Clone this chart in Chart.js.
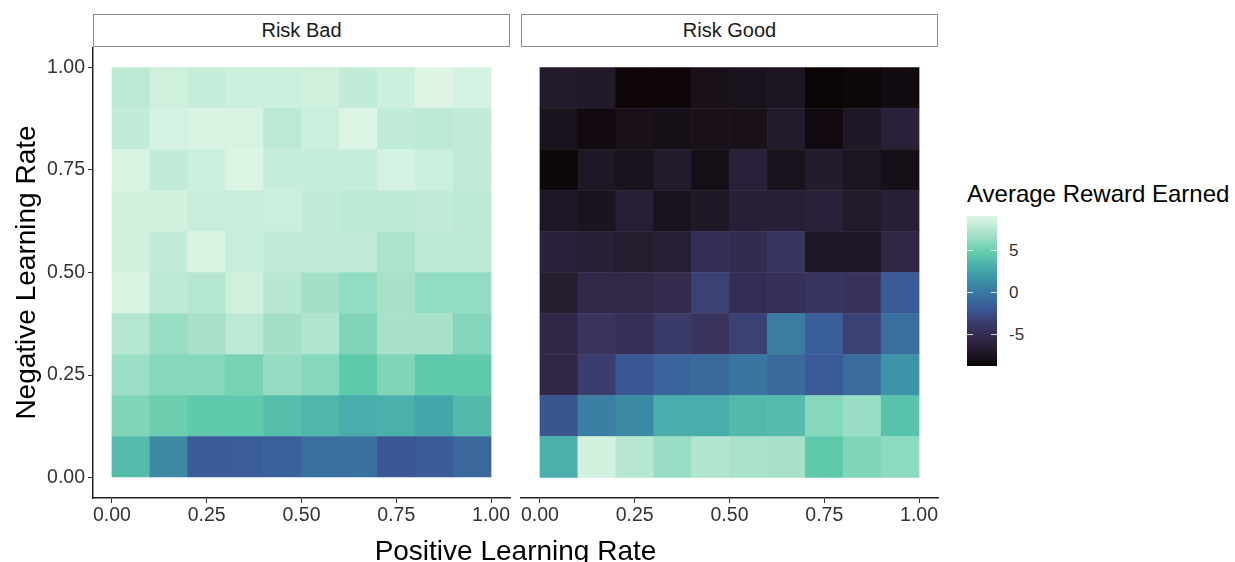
<!DOCTYPE html>
<html>
<head>
<meta charset="utf-8">
<script src="https://cdn.jsdelivr.net/npm/chart.js@4.4.0/dist/chart.umd.min.js"></script>
<style>
  body { margin: 0; background: #fff; font-family: "Liberation Sans", Arial, sans-serif; }
  #wrap { position: relative; width: 1235px; height: 562px; overflow: hidden; }
  .box { position: absolute; }
  .strip { position: absolute; top: 14px; height: 33px; box-sizing: border-box; border: 1px solid #8c8c8c;
           text-align: center; line-height: 31px; font-size: 20px; color: #1a1a1a; background: #fff; }
  #xtitle { position: absolute; left: 93px; width: 845px; top: 535px; text-align: center;
            font-size: 28px; line-height: 32px; color: #000; }
  #ltitle { position: absolute; left: 967px; top: 180px; font-size: 24px; line-height: 28px; color: #000; white-space: nowrap; }
  #lbar { position: absolute; left: 967px; top: 216px; width: 30px; height: 150px; }
  .ltick { position: absolute; height: 1px; width: 6px; background: rgba(255,255,255,0.8); }
  .llab { position: absolute; left: 1009px; font-size: 17px; line-height: 20px; color: #333; }
</style>
</head>
<body>
<div id="wrap">
  <div class="strip" style="left:93px;width:417px;">Risk Bad</div>
  <div class="strip" style="left:521px;width:417px;">Risk Good</div>
  <div class="box" style="left:0;top:47px;width:530px;height:515px;"><canvas id="bad"></canvas></div>
  <div class="box" style="left:501px;top:47px;width:460px;height:515px;"><canvas id="good"></canvas></div>
  <div id="xtitle">Positive Learning Rate</div>
  <div id="ltitle">Average Reward Earned</div>
  <div id="lbar"></div>
</div>
<script>
// tile centres on both axes
const xCenters = [0.05, 0.15, 0.25, 0.35, 0.45, 0.55, 0.65, 0.75, 0.85, 0.95];
const yCenters = [0.05, 0.15, 0.25, 0.35, 0.45, 0.55, 0.65, 0.75, 0.85, 0.95];
const axisTicks = [0, 0.25, 0.5, 0.75, 1];
const legendTicks = [-5, 0, 5];

// average reward, one row per negative learning rate (bottom row first)
const riskBad = [
  [3.9, 1.0, -1.8, -1.7, -1.4, -0.6, -0.5, -2.0, -1.8, -1.0],
  [5.7, 5.1, 4.6, 4.6, 4.0, 3.6, 3.1, 3.3, 2.7, 3.8],
  [6.6, 5.9, 5.9, 5.4, 6.4, 5.9, 4.6, 5.7, 4.6, 4.6],
  [7.5, 6.5, 7.0, 7.7, 6.9, 7.4, 5.7, 7.0, 7.0, 5.8],
  [8.8, 7.8, 7.5, 8.5, 7.6, 6.9, 6.3, 7.0, 6.3, 6.3],
  [8.6, 8.0, 8.9, 8.2, 7.95, 7.9, 7.9, 7.2, 7.8, 7.8],
  [8.6, 8.6, 8.2, 8.2, 8.3, 8.0, 7.8, 7.8, 8.0, 7.8],
  [8.8, 8.0, 8.3, 9.0, 8.1, 8.1, 8.1, 8.7, 8.3, 7.95],
  [8.0, 8.7, 8.9, 8.8, 7.7, 8.3, 9.0, 7.9, 7.7, 7.95],
  [7.8, 8.5, 8.1, 8.4, 8.3, 8.5, 8.0, 8.4, 9.1, 8.7]
];
const riskGood = [
  [3.3, 8.6, 7.6, 6.5, 7.4, 7.1, 7.0, 4.6, 5.7, 6.1],
  [-2.2, 0.4, 1.0, 3.1, 3.1, 3.8, 3.9, 5.9, 6.5, 4.2],
  [-5.5, -3.5, -2.0, -1.2, -0.9, -0.2, -0.9, -1.8, -0.7, 1.6],
  [-5.4, -4.3, -4.7, -3.8, -4.3, -3.2, 0.3, -1.6, -3.2, -0.6],
  [-6.6, -5.3, -5.3, -5.1, -3.2, -4.8, -4.5, -4.2, -4.4, -1.8],
  [-6.1, -6.3, -6.7, -6.5, -4.8, -5.0, -4.2, -7.2, -7.2, -5.5],
  [-7.2, -7.5, -6.5, -7.6, -7.1, -6.4, -6.4, -6.2, -6.9, -6.4],
  [-8.4, -7.2, -7.6, -6.9, -7.9, -6.2, -7.6, -6.8, -7.3, -7.8],
  [-7.6, -8.2, -7.7, -7.8, -7.7, -7.7, -6.8, -8.2, -7.2, -6.2],
  [-6.9, -7.0, -8.5, -8.5, -7.7, -7.6, -7.4, -8.7, -8.4, -8.1]
];

// mako-like colour ramp
const palette = [
  [0, '#0B0405'], [0.095, '#221929'], [0.19, '#33284A'], [0.302, '#3C3F72'],
  [0.385, '#3A5A98'], [0.486, '#3A77A0'], [0.598, '#3E99A8'], [0.67, '#4AAFAB'],
  [0.749, '#60CBAB'], [0.782, '#71D0B1'], [0.838, '#90DBC2'], [0.888, '#AAE2C9'],
  [0.944, '#C6EDDA'], [1, '#DEF5E5']
];

const allValues = riskBad.flat().concat(riskGood.flat());
const vMin = Math.min(...allValues);
const vMax = Math.max(...allValues);

function hexToRgb(h) {
  return [parseInt(h.slice(1, 3), 16), parseInt(h.slice(3, 5), 16), parseInt(h.slice(5, 7), 16)];
}

function colorFor(v) {
  const t = Math.max(0, Math.min(1, (v - vMin) / (vMax - vMin)));
  for (let i = 1; i < palette.length; i++) {
    if (t <= palette[i][0]) {
      const [t0, c0] = palette[i - 1];
      const [t1, c1] = palette[i];
      const f = (t - t0) / (t1 - t0);
      const a = hexToRgb(c0), b = hexToRgb(c1);
      return `rgb(${a.map((c, k) => Math.round(c + (b[k] - c) * f)).join(',')})`;
    }
  }
  return palette[palette.length - 1][1];
}

// one floating-bar dataset per row of tiles
function buildDatasets(grid) {
  return grid.map((row, r) => ({
    data: row.map((v, c) => ({ x: xCenters[c], y: [yCenters[r] - 0.05, yCenters[r] + 0.05], v: v })),
    backgroundColor: ctx => colorFor(ctx.raw.v),
    borderWidth: 0,
    grouped: false,
    barPercentage: 1,
    categoryPercentage: 1
  }));
}

const tickFont = { family: 'Liberation Sans', size: 19.5 };

function makeChart(id, grid, showY) {
  return new Chart(document.getElementById(id), {
    type: 'bar',
    data: { datasets: buildDatasets(grid) },
    options: {
      responsive: true,
      maintainAspectRatio: false,
      animation: false,
      layout: { padding: showY ? { left: 0, right: 20, top: 0 } : { left: 20, right: 23, top: 0 } },
      plugins: { legend: { display: false }, tooltip: { enabled: false } },
      scales: {
        x: {
          type: 'linear',
          min: -0.05,
          max: 1.05,
          offset: false,
          afterBuildTicks: s => { s.ticks = axisTicks.map(v => ({ value: v })); },
          afterFit: s => { s.height = 64; s.paddingLeft = 0; s.paddingRight = 0; },
          grid: { display: true, drawOnChartArea: false, drawTicks: true, tickLength: 5, color: '#333', offset: false },
          border: { display: true, color: '#222', width: 1.5 },
          ticks: { font: tickFont, color: '#333', padding: 1, maxRotation: 0, callback: v => v.toFixed(2) }
        },
        y: {
          display: showY,
          min: -0.05,
          max: 1.05,
          afterBuildTicks: s => { s.ticks = axisTicks.map(v => ({ value: v })); },
          afterFit: s => {
            if (showY) s.width = 93;
            s.paddingTop = 0;
            s.paddingBottom = 0;
          },
          grid: { display: true, drawOnChartArea: false, drawTicks: true, tickLength: 5, color: '#333' },
          border: { display: true, color: '#222', width: 1.5 },
          ticks: { font: tickFont, color: '#333', padding: 3, callback: v => v.toFixed(2) },
          title: { display: true, text: 'Negative Learning Rate', color: '#000',
                   font: { family: 'Liberation Sans', size: 28 }, padding: { top: 10, bottom: 0 } }
        }
      }
    }
  });
}

makeChart('bad', riskBad, true);
makeChart('good', riskGood, false);

// colour bar legend
const bar = document.getElementById('lbar');
bar.style.background = 'linear-gradient(to top, ' +
  palette.map(p => `${p[1]} ${(p[0] * 100).toFixed(1)}%`).join(', ') + ')';
const wrap = document.getElementById('wrap');
const barTop = 216, barH = 150;
legendTicks.forEach(v => {
  const y = barTop + barH * (vMax - v) / (vMax - vMin);
  ['967px', '991px'].forEach(left => {
    const t = document.createElement('div');
    t.className = 'ltick';
    t.style.left = left;
    t.style.top = (y - 0.5) + 'px';
    wrap.appendChild(t);
  });
  const lab = document.createElement('div');
  lab.className = 'llab';
  lab.style.top = (y - 10) + 'px';
  lab.textContent = v;
  wrap.appendChild(lab);
});
</script>
</body>
</html>
